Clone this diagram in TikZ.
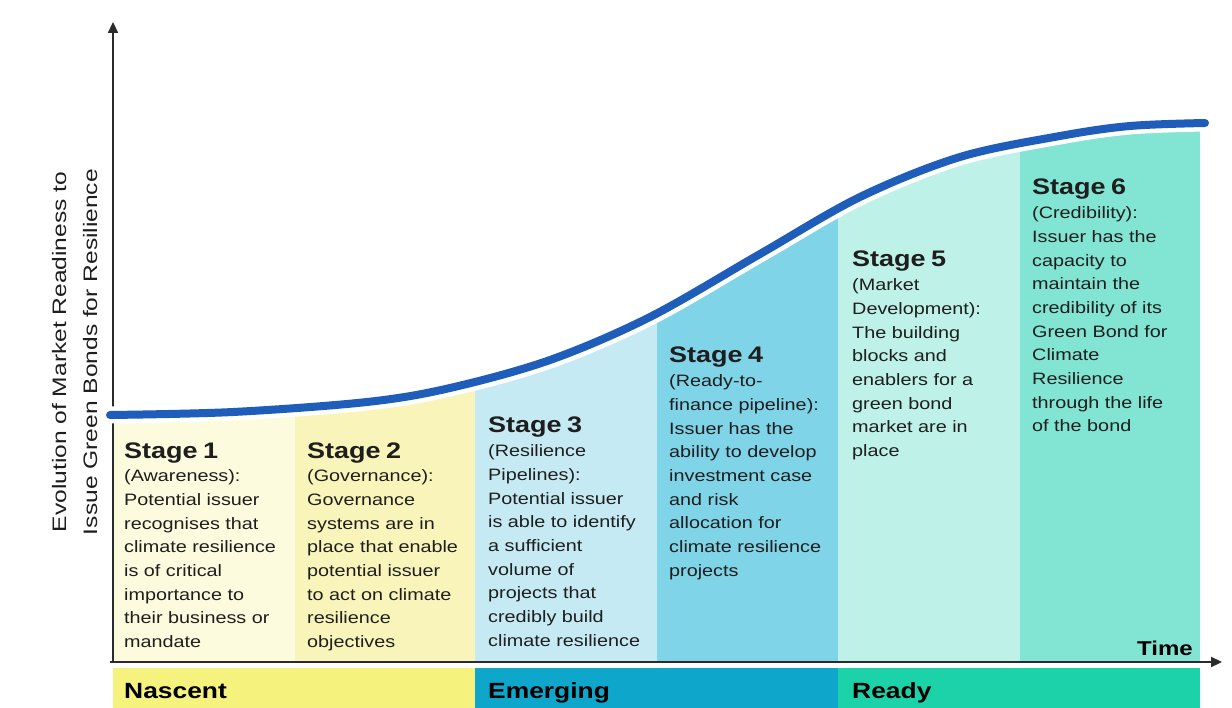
\documentclass[tikz,border=0pt]{standalone}
\usepackage{fontspec}
\setmainfont{Liberation Sans}[FakeStretch=1.2]
\newfontfamily\axisfont{Liberation Sans}[FakeStretch=1.26]
\usetikzlibrary{arrows.meta}
\definecolor{stageone}{HTML}{FDFBDD}
\definecolor{stagetwo}{HTML}{F9F5BA}
\definecolor{stagethree}{HTML}{C6EAF3}
\definecolor{stagefour}{HTML}{80D4E8}
\definecolor{stagefive}{HTML}{BEF1E7}
\definecolor{stagesix}{HTML}{82E4D3}
\definecolor{bandnascent}{HTML}{F5F27D}
\definecolor{bandemerging}{HTML}{0EA7CB}
\definecolor{bandready}{HTML}{1CD3A9}
\definecolor{curveblue}{HTML}{1F5DBA}
\definecolor{axisgray}{HTML}{2B2B2B}
\definecolor{inktext}{HTML}{1E1E1E}
\newcommand{\stagehead}[1]{{\bfseries\fontsize{22.5}{23.7}\selectfont Stage #1}}
\def\readiness{plot[smooth, tension=0.55] coordinates {(110,415) (233,412) (367,402) (450,388) (550,360) (650,317) (760,254) (860,197) (960,157) (1060,136) (1130,126) (1205,123)}}
\tikzset{
  stagetext/.style={anchor=base west, inner sep=0pt, text width=190pt, align=left, text=inktext, font=\fontsize{16.5}{23.7}\selectfont},
  bandtext/.style={anchor=base west, inner sep=0pt, text=black, font=\bfseries\fontsize{22}{24}\selectfont},
  axisline/.style={line width=2.2pt, draw=axisgray, -{Triangle[length=11pt,width=10pt]}},
  axislabel/.style={anchor=base, inner sep=0pt, rotate=90, text=inktext, font=\axisfont\fontsize{19.5}{22}\selectfont}
}

\begin{document}
\begin{tikzpicture}[x=1pt,y=-1pt]
    \useasboundingbox (0,0) rectangle (1232,708);
    \coordinate (origin) at (113,662);
    \coordinate (ytop) at (113,22);
    \coordinate (xstart) at (110,662);
    \coordinate (xend) at (1222,662);
    % stage columns under the curve
    \begin{scope}
      \clip \readiness -- (1205,662) -- (110,662) -- cycle;
      \foreach \xa/\xb/\tint in {113/295/stageone, 295/475/stagetwo, 475/657/stagethree, 657/838/stagefour, 838/1020/stagefive, 1020/1200/stagesix}
        \fill[\tint] (\xa,100) rectangle (\xb,662);
    \end{scope}
    % maturity bands
    \fill[bandnascent] (113,668) rectangle (475,708);
    \fill[bandemerging] (475,668) rectangle (838,708);
    \fill[bandready] (838,668) rectangle (1200,708);
    \node[bandtext] (nascent) at (124,698) {Nascent};
    \node[bandtext] (emerging) at (488,698) {Emerging};
    \node[bandtext] (ready) at (852,698) {Ready};
    % axes
    \draw[axisline] (origin) -- (ytop);
    \draw[axisline] (xstart) -- (xend);
    \node[bandtext, anchor=base east, font=\bfseries\fontsize{20}{22}\selectfont] (timelabel) at (1193,655) {Time};
    \node[axislabel] (ylabelA) at (66,352) {Evolution of Market Readiness to};
    \node[axislabel] (ylabelB) at (97,352) {Issue Green Bonds for Resilience};
    % readiness curve
    \draw[line width=17pt, white] \readiness;
    \draw[line width=8pt, curveblue, line cap=round] \readiness;
    % stage descriptions
    \node[stagetext] (stage1) at (124,458) {\stagehead{1}\\(Awareness):\\Potential issuer\\recognises that\\climate resilience\\is of critical\\importance to\\their business or\\mandate};
    \node[stagetext] (stage2) at (307,458) {\stagehead{2}\\(Governance):\\Governance\\systems are in\\place that enable\\potential issuer\\to act on climate\\resilience\\objectives};
    \node[stagetext] (stage3) at (488,433) {\stagehead{3}\\(Resilience\\Pipelines):\\Potential issuer\\is able to identify\\a sufficient\\volume of\\projects that\\credibly build\\climate resilience};
    \node[stagetext] (stage4) at (669,363) {\stagehead{4}\\(Ready-to-\\finance pipeline):\\Issuer has the\\ability to develop\\investment case\\and risk\\allocation for\\climate resilience\\projects};
    \node[stagetext] (stage5) at (852,267) {\stagehead{5}\\(Market\\Development):\\The building\\blocks and\\enablers for a\\green bond\\market are in\\place};
    \node[stagetext] (stage6) at (1032,195) {\stagehead{6}\\(Credibility):\\Issuer has the\\capacity to\\maintain the\\credibility of its\\Green Bond for\\Climate\\Resilience\\through the life\\of the bond};
\end{tikzpicture}
\end{document}
